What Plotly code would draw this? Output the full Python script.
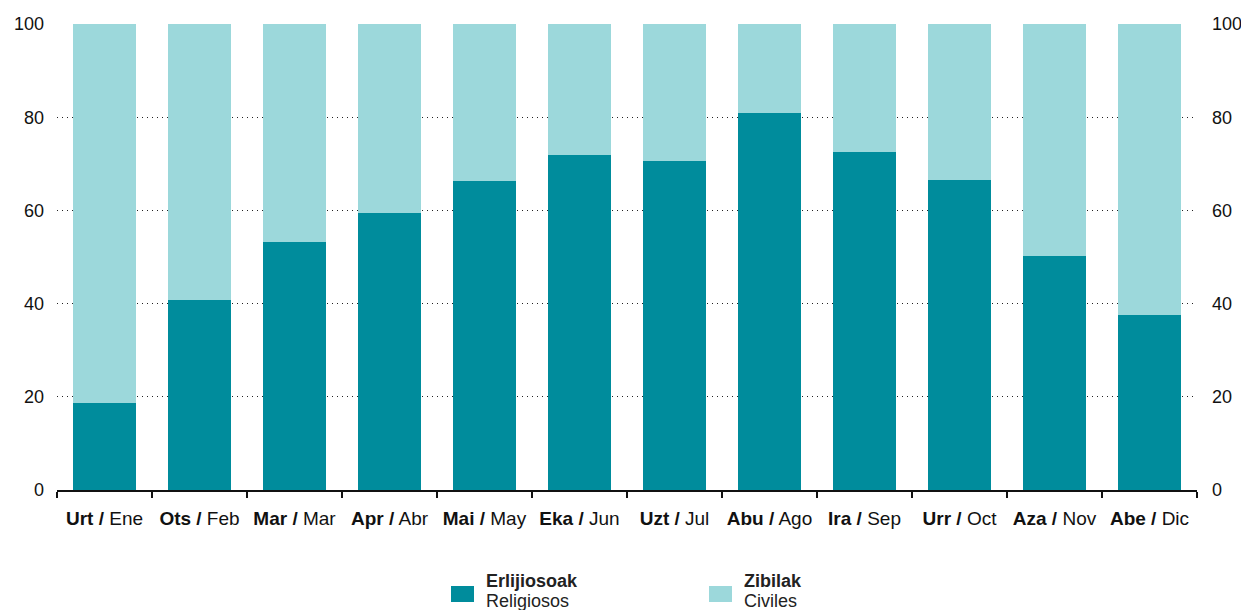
import plotly.graph_objects as go

months_eu = ["Urt", "Ots", "Mar", "Apr", "Mai", "Eka", "Uzt", "Abu", "Ira", "Urr", "Aza", "Abe"]
months_es = ["Ene", "Feb", "Mar", "Abr", "May", "Jun", "Jul", "Ago", "Sep", "Oct", "Nov", "Dic"]
religiosos = [18.7, 40.8, 53.2, 59.4, 66.3, 71.9, 70.6, 80.9, 72.5, 66.5, 50.2, 37.6]
civiles = [round(100 - v, 1) for v in religiosos]
y_ticks = [0, 20, 40, 60, 80, 100]
legend_eu = ["Erlijiosoak", "Zibilak"]
legend_es = ["Religiosos", "Civiles"]

categories = [f"<b>{e} /</b> {s}" for e, s in zip(months_eu, months_es)]

DARK = "#008C9C"
LIGHT = "#9CD8DB"
COLORS = [DARK, LIGHT]
FONT = "Liberation Sans, Arial, sans-serif"

# the page body adds an 8px offset; the figure is sized/margined to compensate
OFF = 8
W, H = 1249 - OFF, 610 - OFF
ML, MR, MT, MB = 57 - OFF, 52, 24 - OFF, 120
PW, PH = W - ML - MR, H - MT - MB


def px_x(x):
    # page pixel -> paper coordinate
    return (x - OFF - ML) / PW


def px_y(y):
    return (H - MB - (y - OFF)) / PH


fig = go.Figure()
fig.add_trace(go.Bar(x=categories, y=religiosos, name=legend_eu[0] + " / " + legend_es[0],
                     marker=dict(color=DARK, line=dict(width=0)), showlegend=False))
fig.add_trace(go.Bar(x=categories, y=civiles, name=legend_eu[1] + " / " + legend_es[1],
                     marker=dict(color=LIGHT, line=dict(width=0)), showlegend=False))
# invisible trace to anchor the right axis
fig.add_trace(go.Scatter(x=categories, y=religiosos, yaxis="y2", mode="markers",
                         marker=dict(opacity=0), showlegend=False, hoverinfo="skip"))

# custom legend (swatch + two-line label)
shapes, annotations = [], []
for i, (eu, es) in enumerate(zip(legend_eu, legend_es)):
    x0 = 451 + i * 258
    shapes.append(dict(type="rect", xref="paper", yref="paper",
                       x0=px_x(x0), x1=px_x(x0 + 23), y0=px_y(602), y1=px_y(586),
                       fillcolor=COLORS[i], line=dict(width=0)))
    annotations.append(dict(xref="paper", yref="paper", x=px_x(x0 + 33), y=px_y(581),
                            xanchor="left", yanchor="middle", showarrow=False,
                            text=f"<b>{eu}</b>", font=dict(size=18, color="#222222")))
    annotations.append(dict(xref="paper", yref="paper", x=px_x(x0 + 33), y=px_y(601),
                            xanchor="left", yanchor="middle", showarrow=False,
                            text=es, font=dict(size=18, color="#222222")))

fig.update_layout(
    barmode="stack",
    bargap=0.33,
    width=W, height=H,
    margin=dict(l=ML, r=MR, t=MT, b=MB, autoexpand=False),
    paper_bgcolor="white", plot_bgcolor="white",
    font=dict(family=FONT, size=18, color="#111111"),
    showlegend=False,
    shapes=shapes,
    annotations=annotations,
    xaxis=dict(range=[-0.5, len(categories) - 0.5], showline=True, linecolor="#111111",
               linewidth=2, automargin=False, tickangle=0,
               ticks="outside", tickson="boundaries", ticklen=6, tickwidth=2,
               tickcolor="#111111", showgrid=False, ticklabelstandoff=10,
               tickfont=dict(size=19, color="#111111")),
    yaxis=dict(range=[0, 100], tickvals=y_ticks, showgrid=True, gridcolor="#222222",
               gridwidth=1, griddash="1px,4px", zeroline=False, ticks="", automargin=False,
               ticklabelstandoff=12, tickfont=dict(size=18, color="#111111")),
    yaxis2=dict(range=[0, 100], tickvals=y_ticks, overlaying="y", side="right",
                showgrid=False, zeroline=False, ticks="", ticklabelstandoff=14,
                automargin=False, tickfont=dict(size=18, color="#111111")),
)

fig.write_html("out.html")
